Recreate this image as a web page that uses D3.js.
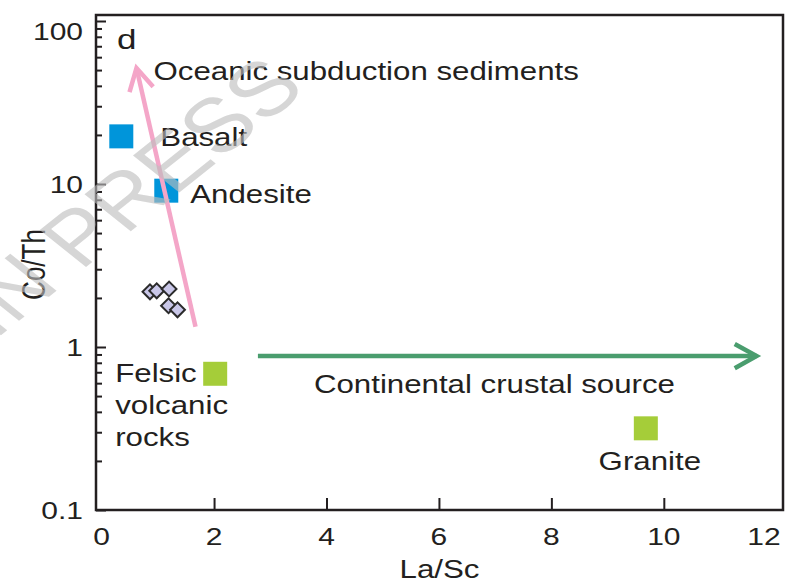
<!DOCTYPE html>
<html>
<head>
<meta charset="utf-8">
<script src="https://cdn.jsdelivr.net/npm/d3@7"></script>
<style>
  body { margin: 0; background: #fff; }
  svg { display: block; }
  text { font-family: "Liberation Sans", Arial, sans-serif; fill: #231f20; }
</style>
</head>
<body>
<svg id="chart" width="789" height="582"></svg>
<script>
// ---- data ----
const xTickValues = [0, 2, 4, 6, 8, 10, 12];
const xTickLabels = ["0", "2", "4", "6", "8", "10", "12"];
const yTickValues = [0.1, 1, 10, 100];
const yTickLabels = ["0.1", "1", "10", "100"];

// reference compositions (La/Sc, Co/Th)
const refNames = ["Basalt", "Andesite", "Felsic\nvolcanic\nrocks", "Granite"];
const refLaSc = [0.35, 1.15, 2.02, 9.68];
const refCoTh = [19.6, 9.1, 0.685, 0.317];
const refKind = ["mafic", "mafic", "felsic", "felsic"];

// samples
const sampleLaSc = [0.86, 0.98, 1.20, 1.19, 1.35];
const sampleCoTh = [2.18, 2.21, 2.27, 1.79, 1.69];

// trend arrows
const trendNames = ["Oceanic subduction sediments", "Continental crustal source"];
const trendFromLaSc = [1.67, 2.78];
const trendFromCoTh = [1.33, 0.88];
const trendToLaSc = [0.62, 11.65];
const trendToCoTh = [51.4, 0.88];

// ---- layout & style ----
const W = 789, H = 582;
const plot = { left: 96, right: 783, top: 15, bottom: 510 };
const STRETCH = 1.25;               // horizontal glyph stretch used for all lettering
const ink = "#231f20";
const kindColor = { mafic: "#0095da", felsic: "#a5cd39" };
const trendColor = ["#f4a6c8", "#4a9d6e"];
const trendWidth = [4.5, 4.5];

const svg = d3.select("#chart");

const x = d3.scaleLinear().domain([-0.1, 12.12]).range([plot.left, plot.right]);
const y = d3.scaleLog()
  .domain([0.1, Math.pow(10, -1 + (plot.bottom - plot.top) / 163)])
  .range([plot.bottom, plot.top]);

function label(parent, text, px, py, size, anchor) {
  return parent.append("text")
    .attr("transform", `translate(${px},${py}) scale(${STRETCH},1)`)
    .attr("text-anchor", anchor || "start")
    .style("font-size", size + "px")
    .text(text);
}

// ---- watermark (behind the lettering, over the plot area) ----
const gWater = svg.append("g");

// ---- axes ----
// minor log ticks 2..9 in each decade
const yMinor = [];
yTickValues.slice(0, -1).forEach(d => { for (let k = 2; k <= 9; k++) yMinor.push(d * k); });

const axisY = d3.axisLeft(y).tickValues(yMinor).tickSize(-6).tickFormat("");
const gYmin = svg.append("g").attr("transform", `translate(${plot.left},0)`).call(axisY);
const axisYMaj = d3.axisLeft(y).tickValues(yTickValues).tickSize(-10).tickFormat("");
const gYmaj = svg.append("g").attr("transform", `translate(${plot.left},0)`).call(axisYMaj);
const axisX = d3.axisBottom(x).tickValues(xTickValues.slice(1, -1)).tickSize(-12).tickFormat("");
const gX = svg.append("g").attr("transform", `translate(0,${plot.bottom})`).call(axisX);
[gYmin, gYmaj, gX].forEach(g => {
  g.select(".domain").remove();
  g.selectAll("line").attr("stroke", ink).attr("stroke-width", 2);
});

// tick labels
yTickValues.forEach((v, i) => {
  label(svg, yTickLabels[i], plot.left - 13, Math.max(y(v), plot.top + 16) + 8.5, 24, "end");
});
xTickValues.forEach((v, i) => {
  label(svg, xTickLabels[i], Math.min(x(v), plot.right - 19), plot.bottom + 35, 24, "middle");
});

// axis titles
label(svg, "La/Sc", (plot.left + plot.right) / 2, plot.bottom + 68, 25, "middle");
svg.append("text")
  .attr("transform", `translate(45,${(plot.top + plot.bottom) / 2 + 2}) scale(${STRETCH},1) rotate(-90)`)
  .attr("text-anchor", "middle")
  .style("font-size", "26px")
  .text("Co/Th");

// frame
svg.append("rect")
  .attr("x", plot.left).attr("y", plot.top)
  .attr("width", plot.right - plot.left).attr("height", plot.bottom - plot.top)
  .attr("fill", "none").attr("stroke", ink).attr("stroke-width", 2.5);

// panel letter
label(svg, "d", plot.left + 21, plot.top + 34, 28);

// ---- reference squares ----
const refs = refNames.map((n, i) => ({ name: n, lasc: refLaSc[i], coth: refCoTh[i], kind: refKind[i] }));
svg.append("g").selectAll("path").data(refs).join("path")
  .attr("transform", d => `translate(${x(d.lasc)},${y(d.coth)})`)
  .attr("d", d3.symbol(d3.symbolSquare, 24 * 24))
  .attr("fill", d => kindColor[d.kind]);

// ---- samples ----
const samples = sampleLaSc.map((v, i) => ({ lasc: v, coth: sampleCoTh[i] }));
svg.append("g").selectAll("path").data(samples).join("path")
  .attr("transform", d => `translate(${x(d.lasc)},${y(d.coth)}) rotate(45)`)
  .attr("d", d3.symbol(d3.symbolSquare, 10.5 * 10.5))
  .attr("fill", "#c9c7e8").attr("stroke", "#2b2b2b").attr("stroke-width", 2)
  .attr("stroke-linejoin", "miter");

// ---- trend arrows ----
const trends = trendNames.map((n, i) => ({
  name: n,
  x0: x(trendFromLaSc[i]), y0: y(trendFromCoTh[i]),
  x1: x(trendToLaSc[i]), y1: y(trendToCoTh[i]),
  color: trendColor[i], width: trendWidth[i]
}));
const gT = svg.append("g");
trends.forEach(t => {
  const ang = Math.atan2(t.y1 - t.y0, t.x1 - t.x0);
  const L = 25, spread = Math.PI / 6.2;
  gT.append("line")
    .attr("x1", t.x0).attr("y1", t.y0).attr("x2", t.x1).attr("y2", t.y1)
    .attr("stroke", t.color).attr("stroke-width", t.width);
  const p = d3.path();
  p.moveTo(t.x1 - L * Math.cos(ang - spread), t.y1 - L * Math.sin(ang - spread));
  p.lineTo(t.x1, t.y1);
  p.lineTo(t.x1 - L * Math.cos(ang + spread), t.y1 - L * Math.sin(ang + spread));
  gT.append("path").attr("d", p.toString())
    .attr("fill", "none").attr("stroke", t.color).attr("stroke-width", t.width)
    .attr("stroke-linejoin", "miter");
});

// ---- labels ----
const refLabelOffset = [
  { dx: 39, dy: 10, anchor: "start" },
  { dx: 24, dy: 12.5, anchor: "start" },
  { dx: -100, dy: 8, anchor: "start" },
  { dx: 4, dy: 42, anchor: "middle" }
];
refs.forEach((d, i) => {
  const o = refLabelOffset[i];
  d.name.split("\n").forEach((line, j) => {
    label(svg, line, x(d.lasc) + o.dx, y(d.coth) + o.dy + j * 32, 25, o.anchor);
  });
});
label(svg, trends[0].name, trends[0].x1 + 17, trends[0].y1 + 12, 25);
label(svg, trends[1].name, trends[1].x0 + 56, trends[1].y0 + 37, 25);

// ---- watermark on top, semi-transparent ----
svg.append("text")
  .attr("transform", `translate(128,196) scale(${STRETCH},1) rotate(-45)`)
  .attr("text-anchor", "middle")
  .attr("dy", "0.35em")
  .style("font-size", "76px")
  .style("fill", "#bdbdbd")
  .style("fill-opacity", 0.62)
  .text("IN PRESS");
</script>
</body>
</html>
